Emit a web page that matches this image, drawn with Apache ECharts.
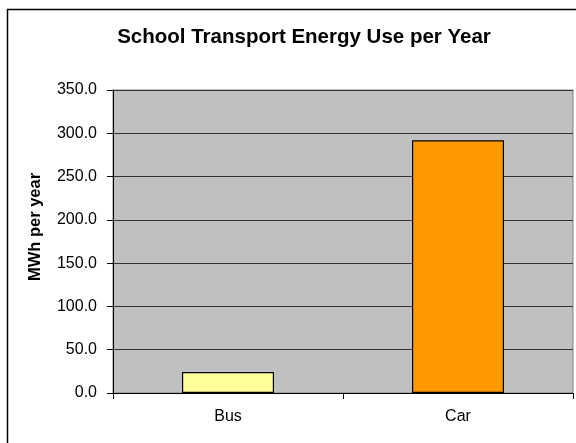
<!DOCTYPE html>
<html>
<head>
<meta charset="utf-8">
<script src="https://cdn.jsdelivr.net/npm/echarts@6/dist/echarts.min.js"></script>
<style>
html,body{margin:0;padding:0;background:#fff;}
#c{width:576px;height:443px;}
</style>
</head>
<body>
<div id="c"></div>
<script>
const titleText = 'School Transport Energy Use per Year';
const yAxisTitle = 'MWh per year';
const categories = ['Bus', 'Car'];
const values = [24.2, 292.0];
const barColors = ['#FFFF99', '#FF9900'];
const yMin = 0, yMax = 350, yStep = 50;

const chart = echarts.init(document.getElementById('c'), null, {renderer: 'canvas'});
const FONT = 'Liberation Sans, Arial, sans-serif';
chart.setOption({
  backgroundColor: '#ffffff',
  animation: false,
  title: {
    text: titleText,
    left: 299, top: 22, textAlign: 'center',
    textStyle: {fontFamily: FONT, fontSize: 20.5, fontWeight: 'bold', color: '#000'}
  },
  graphic: [
    {type: 'polyline', shape: {points: [[7.5, 443], [7.5, 9.5], [576, 9.5]]},
     style: {stroke: '#000', lineWidth: 1.5, fill: null}, silent: true},
    {type: 'text', x: 35, y: 227, rotation: Math.PI / 2,
     style: {text: yAxisTitle, font: 'bold 16.5px ' + FONT, fill: '#000', align: 'center', verticalAlign: 'middle'}}
  ],
  grid: {
    left: 113, top: 90, width: 460, height: 303,
    show: true, backgroundColor: '#C0C0C0', borderColor: '#808080', borderWidth: 1
  },
  xAxis: {
    type: 'category', data: categories,
    axisLine: {show: true, lineStyle: {color: '#000', width: 1}},
    axisTick: {show: true, length: 6, lineStyle: {color: '#000'}},
    axisLabel: {fontFamily: FONT, fontSize: 16, color: '#000', margin: 16},
    splitLine: {show: false}
  },
  yAxis: {
    type: 'value', min: yMin, max: yMax, interval: yStep,
    axisLine: {show: true, lineStyle: {color: '#000', width: 1}},
    axisTick: {show: true, length: 6, lineStyle: {color: '#000'}},
    axisLabel: {fontFamily: FONT, fontSize: 16, color: '#000', margin: 16,
      formatter: v => v.toFixed(1)},
    splitLine: {show: true, lineStyle: {color: '#333', width: 1}}
  },
  series: [{
    type: 'bar',
    data: values.map((v, i) => ({value: v, itemStyle: {color: barColors[i]}})),
    barWidth: '40%',
    itemStyle: {borderColor: '#000', borderWidth: 1.2}
  }]
});
</script>
</body>
</html>
